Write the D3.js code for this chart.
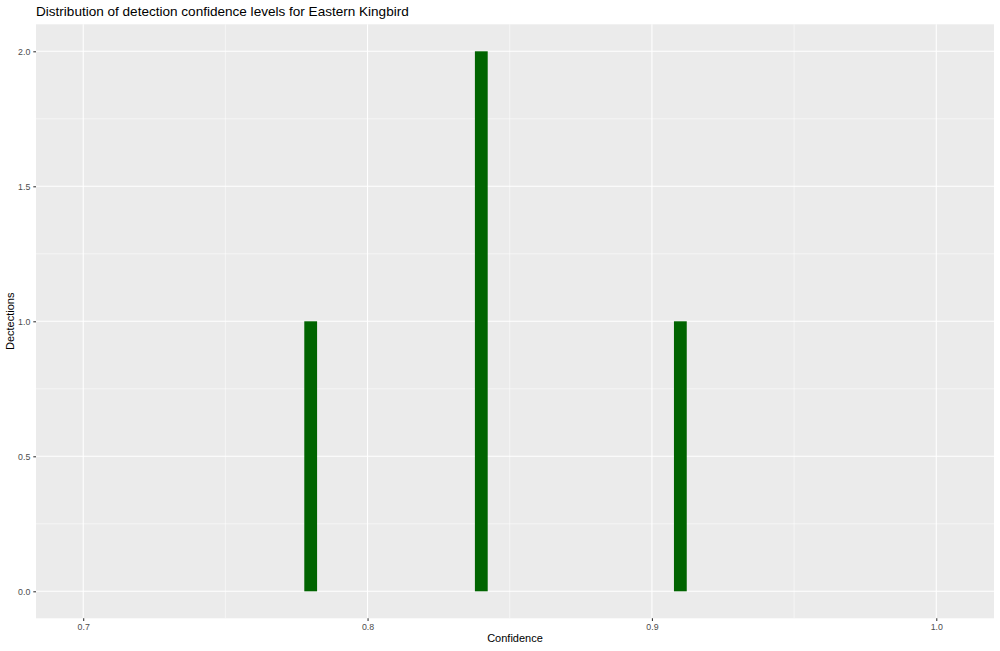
<!DOCTYPE html>
<html><head><meta charset="utf-8">
<script src="https://cdn.jsdelivr.net/npm/d3@7"></script>
<style>body{margin:0;background:#fff;} svg{display:block;font-family:"Liberation Sans",Arial,Helvetica,sans-serif;}</style>
</head><body>
<script>
const binCenters = [0.78, 0.84, 0.91];
const counts = [1, 2, 1];
const binWidth = 0.0045;
const xTicks = [0.7, 0.8, 0.9, 1.0];
const xMinor = [0.75, 0.85, 0.95];
const yTicks = [0.0, 0.5, 1.0, 1.5, 2.0];
const yMinor = [0.25, 0.75, 1.25, 1.75];
const title = "Distribution of detection confidence levels for Eastern Kingbird";
const xTitle = "Confidence";
const yTitle = "Dectections";

const W = 1000, H = 651;
const P = {l: 36, r: 994, t: 24.3, b: 618.3};
const svg = d3.select("body").append("svg").attr("width", W).attr("height", H);
const x = d3.scaleLinear().domain([0.6834, 1.0203]).range([P.l, P.r]);
const y = d3.scaleLinear().domain([-0.1, 2.1]).range([P.b, P.t]);

svg.append("rect").attr("x", P.l).attr("y", P.t).attr("width", P.r - P.l).attr("height", P.b - P.t).attr("fill", "#EBEBEB");

const g = svg.append("g");
g.selectAll(".xmin").data(xMinor).join("line").attr("x1", d => x(d)).attr("x2", d => x(d)).attr("y1", P.t).attr("y2", P.b).attr("stroke", "#fff").attr("stroke-width", 0.53);
g.selectAll(".ymin").data(yMinor).join("line").attr("y1", d => y(d)).attr("y2", d => y(d)).attr("x1", P.l).attr("x2", P.r).attr("stroke", "#fff").attr("stroke-width", 0.53);
g.selectAll(".xmaj").data(xTicks).join("line").attr("x1", d => x(d)).attr("x2", d => x(d)).attr("y1", P.t).attr("y2", P.b).attr("stroke", "#fff").attr("stroke-width", 1.07);
g.selectAll(".ymaj").data(yTicks).join("line").attr("y1", d => y(d)).attr("y2", d => y(d)).attr("x1", P.l).attr("x2", P.r).attr("stroke", "#fff").attr("stroke-width", 1.07);

svg.selectAll(".bar").data(binCenters).join("rect")
  .attr("x", d => x(d - binWidth / 2))
  .attr("width", d => x(d + binWidth / 2) - x(d - binWidth / 2))
  .attr("y", (d, i) => y(counts[i]))
  .attr("height", (d, i) => y(0) - y(counts[i]))
  .attr("fill", "#006400");

const xAxis = d3.axisBottom(x).tickValues(xTicks).tickFormat(d3.format(".1f")).tickSize(2.7).tickPadding(3);
const gx = svg.append("g").attr("transform", `translate(0,${P.b})`).call(xAxis);
const yAxis = d3.axisLeft(y).tickValues(yTicks).tickFormat(d3.format(".1f")).tickSize(2.7).tickPadding(3);
const gy = svg.append("g").attr("transform", `translate(${P.l},0)`).call(yAxis);
[gx, gy].forEach(a => {
  a.select(".domain").remove();
  a.selectAll(".tick line").attr("stroke", "#333333").attr("stroke-width", 1.07);
  a.selectAll(".tick text").attr("fill", "#4D4D4D").style("font-size", "8.8px").style("font-family", "inherit");
});

svg.append("text").attr("x", (P.l + P.r) / 2).attr("y", 642).attr("text-anchor", "middle").style("font-size", "11px").attr("fill", "#000").text(xTitle);
svg.append("text").attr("transform", `translate(14,${(P.t + P.b) / 2}) rotate(-90)`).attr("text-anchor", "middle").style("font-size", "11px").attr("fill", "#000").text(yTitle);
svg.append("text").attr("x", 36).attr("y", 16.3).style("font-size", "13.55px").attr("fill", "#000").text(title);
</script>
</body></html>
